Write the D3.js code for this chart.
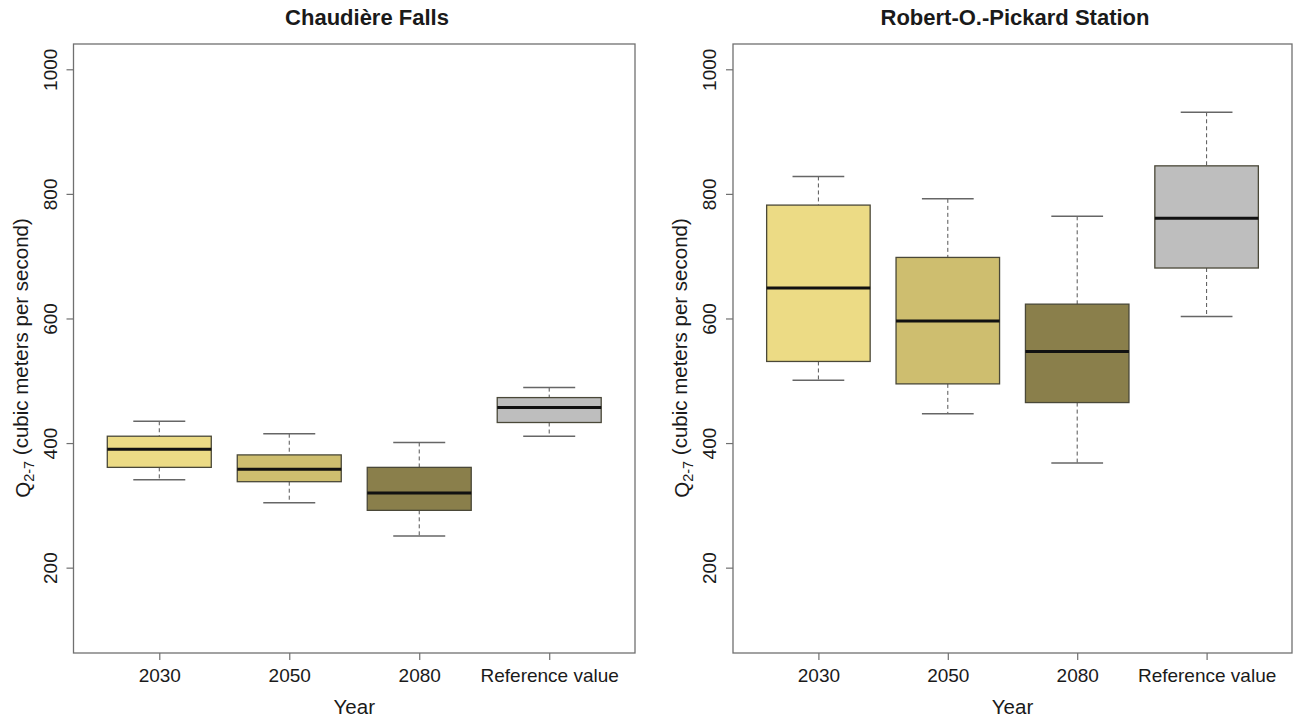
<!DOCTYPE html>
<html lang="en">
<head>
<meta charset="UTF-8">
<title>Q2-7 boxplots</title>
<style>
  body { margin: 0; background: #fff; }
  text { font-family: "Liberation Sans", Arial, sans-serif; fill: #1a1a1a; }
</style>
</head>
<body>
<svg id="chart" width="1297" height="717"></svg>
<script src="https://d3js.org/d3.v7.min.js"></script>
<script>

    // categories + tick labels
    var categories = ["2030", "2050", "2080", "Reference value"];
    var yTicks = [200, 400, 600, 800, 1000];
    var boxFills = ["#ecdb85", "#cebe6f", "#8a7f4b", "#bebebe"];

    // Chaudière Falls (whisker low, Q1, median, Q3, whisker high)
    var chaudLow  = [341, 304, 251, 411];
    var chaudQ1   = [361, 338, 292, 433];
    var chaudMed  = [390, 358, 320, 457];
    var chaudQ3   = [411, 381, 361, 473];
    var chaudHigh = [435, 415, 401, 489];

    // Robert-O.-Pickard Station
    var pickLow  = [501, 447, 368, 603];
    var pickQ1   = [531, 495, 465, 681];
    var pickMed  = [649, 596, 547, 761];
    var pickQ3   = [782, 698, 623, 845];
    var pickHigh = [828, 792, 764, 931];

    var svg = d3.select("#chart"),
        plotTop = 44,
        plotBottom = 653;

    var panels = [
        { title: "Chaudière Falls", left: 73.5, right: 635, titleX: 367,
          lo: chaudLow, q1: chaudQ1, med: chaudMed, q3: chaudQ3, hi: chaudHigh },
        { title: "Robert-O.-Pickard Station", left: 733, right: 1292, titleX: 1015,
          lo: pickLow, q1: pickQ1, med: pickMed, q3: pickQ3, hi: pickHigh }
    ];

    var y = d3.scaleLinear().domain([63, 1040.6]).range([plotBottom, plotTop]);

    panels.forEach(drawPanel);

    function drawPanel(p) {
        var x = d3.scalePoint()
                  .domain(categories)
                  .range([p.left, p.right])
                  .padding(0.66);
        var bw = x.step() * 0.8;

        var rows = categories.map(function (c, i) {
            return { cat: c, lo: p.lo[i], q1: p.q1[i], med: p.med[i], q3: p.q3[i], hi: p.hi[i], fill: boxFills[i] };
        });

        var g = svg.append("g");

        var box = g.selectAll(".box").data(rows).enter().append("g").attr("class", "box");

        // whiskers (dashed)
        box.append("line")
           .attr("x1", function (d) { return x(d.cat); })
           .attr("x2", function (d) { return x(d.cat); })
           .attr("y1", function (d) { return y(d.hi); })
           .attr("y2", function (d) { return y(d.q3); })
           .attr("stroke", "#555").attr("stroke-width", 1).attr("stroke-dasharray", "4,3");
        box.append("line")
           .attr("x1", function (d) { return x(d.cat); })
           .attr("x2", function (d) { return x(d.cat); })
           .attr("y1", function (d) { return y(d.q1); })
           .attr("y2", function (d) { return y(d.lo); })
           .attr("stroke", "#555").attr("stroke-width", 1).attr("stroke-dasharray", "4,3");

        // caps
        ["hi", "lo"].forEach(function (k) {
            box.append("line")
               .attr("x1", function (d) { return x(d.cat) - bw / 4; })
               .attr("x2", function (d) { return x(d.cat) + bw / 4; })
               .attr("y1", function (d) { return y(d[k]); })
               .attr("y2", function (d) { return y(d[k]); })
               .attr("stroke", "#666").attr("stroke-width", 1.5);
        });

        box.append("rect")
           .attr("x", function (d) { return x(d.cat) - bw / 2; })
           .attr("width", bw)
           .attr("y", function (d) { return y(d.q3); })
           .attr("height", function (d) { return y(d.q1) - y(d.q3); })
           .attr("fill", function (d) { return d.fill; })
           .attr("stroke", "#4a4838").attr("stroke-width", 1.3);

        box.append("line")
           .attr("x1", function (d) { return x(d.cat) - bw / 2; })
           .attr("x2", function (d) { return x(d.cat) + bw / 2; })
           .attr("y1", function (d) { return y(d.med); })
           .attr("y2", function (d) { return y(d.med); })
           .attr("stroke", "#111").attr("stroke-width", 3);

        // frame
        g.append("rect")
         .attr("x", p.left).attr("y", plotTop)
         .attr("width", p.right - p.left).attr("height", plotBottom - plotTop)
         .attr("fill", "none").attr("stroke", "#707070").attr("stroke-width", 1.3);

        // y axis
        var ya = g.append("g")
                  .attr("transform", "translate(" + p.left + ",0)")
                  .call(d3.axisLeft(y).tickValues(yTicks).tickSize(7).tickSizeOuter(0));
        ya.select(".domain").remove();
        ya.selectAll("line").attr("stroke", "#707070").attr("stroke-width", 1.2);
        ya.selectAll("text").remove();
        ya.selectAll(".tick").append("text")
          .attr("transform", "translate(-17,0) rotate(-90)")
          .attr("text-anchor", "middle")
          .attr("fill", "#1a1a1a")
          .style("font-size", "19px")
          .text(function (d) { return d; });

        // x axis
        var xa = g.append("g")
                  .attr("transform", "translate(0," + plotBottom + ")")
                  .call(d3.axisBottom(x).tickSize(7).tickSizeOuter(0));
        xa.select(".domain").remove();
        xa.selectAll("line").attr("stroke", "#707070").attr("stroke-width", 1.2);
        xa.selectAll("text")
          .attr("y", 29).attr("dy", 0)
          .attr("fill", "#1a1a1a")
          .style("font-size", "19px");

        // titles
        g.append("text")
         .attr("x", p.titleX).attr("y", 25)
         .attr("text-anchor", "middle")
         .style("font-size", "22px").style("font-weight", "bold")
         .text(p.title);

        g.append("text")
         .attr("x", (p.left + p.right) / 2).attr("y", 714)
         .attr("text-anchor", "middle")
         .style("font-size", "20.5px")
         .text("Year");

        var yt = g.append("text")
                  .attr("transform", "translate(" + (p.left - 44) + ",358) rotate(-90)")
                  .attr("text-anchor", "middle")
                  .style("font-size", "20.5px");
        yt.append("tspan").text("Q");
        yt.append("tspan").attr("dy", "0.3em").style("font-size", "14.5px").text("2-7");
        yt.append("tspan").attr("dy", "-0.3em").text(" (cubic meters per second)");
    }

</script>
</body>
</html>
